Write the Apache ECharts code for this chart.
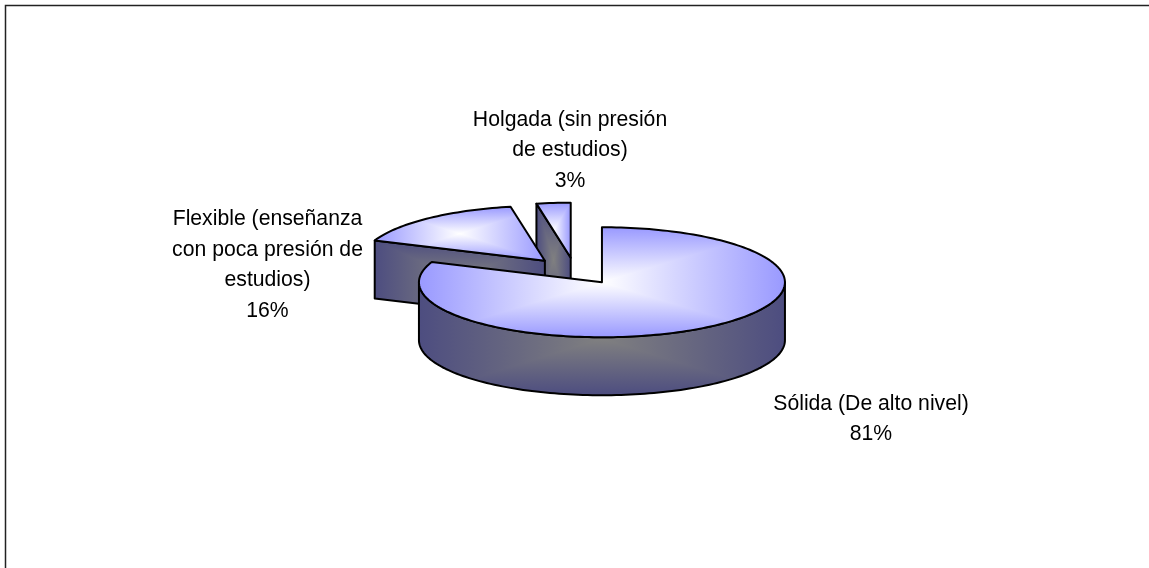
<!DOCTYPE html>
<html><head><meta charset="utf-8">
<style>html,body{margin:0;padding:0;background:#fff}#c{width:1149px;height:568px}</style>
<script src="https://cdn.jsdelivr.net/npm/echarts@6/dist/echarts.min.js"></script>
</head><body><div id="c"></div>
<script>
const categories = ['Sólida (De alto nivel)', 'Flexible (enseñanza\ncon poca presión de\nestudios)', 'Holgada (sin presión\nde estudios)'];
const values = [81, 16, 3];
const drawOrder = [2, 1, 0];

const labelAnchors = [[871, 419], [267.5, 265], [570, 150.5]];
const C = {x: 575.2, y: 271.1, rx: 183, ry: 55, depth: 58, explodeX: 0.26, explodeY: 0.245};
const total = values.reduce((a, b) => a + b, 0);
const starts = values.map((v, i) => values.slice(0, i).reduce((a, b) => a + b, 0) / total * 360);

function pt(c, deg, dy) {
  const t = deg * Math.PI / 180;
  return [c.x + C.rx * Math.sin(t), c.y - C.ry * Math.cos(t) + (dy || 0)];
}
function arc(c, a, b, dy) {
  const n = Math.max(2, Math.ceil(Math.abs(b - a) / 1.5)), out = [];
  for (let i = 0; i <= n; i++) out.push(pt(c, a + (b - a) * i / n, dy));
  return out;
}
function bbox(p) {
  const xs = p.map(q => q[0]), ys = p.map(q => q[1]);
  return [Math.min(...xs), Math.min(...ys), Math.max(...xs), Math.max(...ys)];
}
const G = echarts.graphic.LinearGradient;
// Rectangular "from centre" gradient: horizontal ramp, with the top and bottom
// triangles of the box (split along its diagonals) overdrawn by a vertical ramp.
function faces(points, box, edge, mid) {
  const stops = [{offset: 0, color: edge}, {offset: .5, color: mid}, {offset: 1, color: edge}];
  const H = new G(box[0], 0, box[2], 0, stops, true);
  const V = new G(0, box[1], 0, box[3], stops, true);
  const bow = [[box[0], box[1]], [box[2], box[1]], [box[0], box[3]], [box[2], box[3]]];
  return [
    {type: 'polygon', shape: {points}, style: {fill: H, stroke: null}},
    {type: 'polygon', shape: {points}, style: {fill: V, stroke: null},
      clipPath: {type: 'polygon', shape: {points: bow}}},
    {type: 'polygon', shape: {points}, style: {fill: null, stroke: '#000', lineWidth: 2, lineJoin: 'round'}}
  ];
}
const wallFace = p => faces(p, bbox(p), '#4D4D80', '#808080');
const topFace = (p, box) => faces(p, box, '#9999FF', '#FFFFFF');

function renderSlice(params, api) {
  const i = api.value(0), v = api.value(1);
  const a = starts[i], b = a + v / total * 360, m = (a + b) / 2, t = m * Math.PI / 180;
  const c = {x: C.x + C.explodeX * C.rx * Math.sin(t), y: C.y - C.explodeY * C.ry * Math.cos(t)};
  const apex = [c.x, c.y];
  const rim = arc(c, a, b);
  const children = [];
  if (i === 0) {
    const upper = arc(c, 90, 270), lower = arc(c, 270, 90, C.depth);
    children.push(...wallFace(upper.concat(lower)));
  } else {
    const p = pt(c, a);
    children.push(...wallFace([p, apex, [apex[0], apex[1] + C.depth], [p[0], p[1] + C.depth]]));
  }
  const poly = [apex].concat(rim);
  const box = i === 0 ? [c.x - C.rx, c.y - C.ry, c.x + C.rx, c.y + C.ry] : bbox(poly);
  children.push(...topFace(poly, box));
  const la = labelAnchors[i];
  children.push({type: 'text', style: {
    text: categories[i] + '\n' + v + '%', x: la[0], y: la[1], align: 'center', verticalAlign: 'middle',
    font: '21.2px "Liberation Sans"', fill: '#000', lineHeight: 30.5
  }});
  return {type: 'group', children};
}

const chart = echarts.init(document.getElementById('c'), null, {renderer: 'canvas'});
chart.setOption({
  animation: false,
  backgroundColor: '#fff',
  graphic: [{type: 'rect', shape: {x: 5.5, y: 5.5, width: 1300, height: 800}, style: {fill: null, stroke: '#222', lineWidth: 1.5}, silent: true}],
  series: [{
    type: 'custom', coordinateSystem: 'none', silent: true,
    data: drawOrder.map(i => [i, values[i]]),
    renderItem: renderSlice
  }]
});
</script></body></html>
